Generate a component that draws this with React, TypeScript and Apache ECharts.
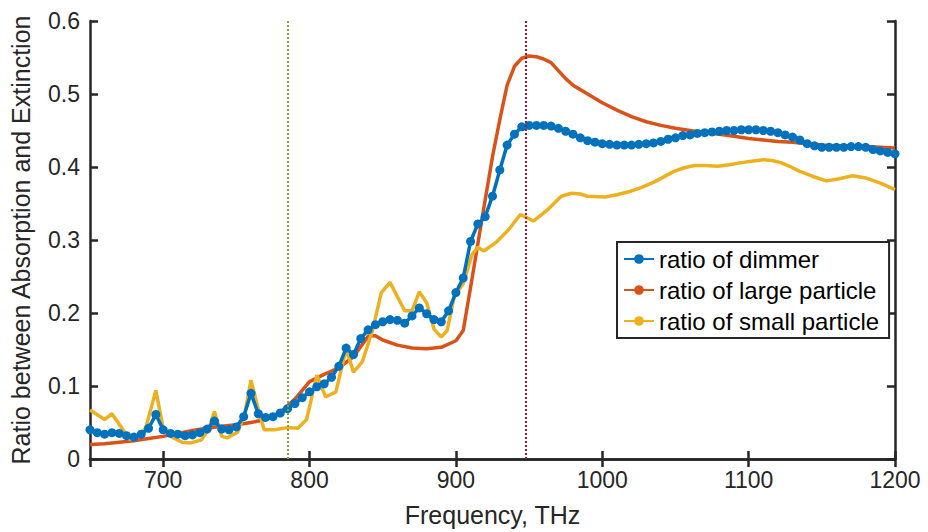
import React, { useEffect, useRef } from "react";
import * as echarts from "echarts";

const dimmerFreq = [
  650, 655, 660, 665, 670, 675, 680, 685, 690, 695, 700, 705, 710, 715, 720, 725, 730, 735, 740, 745,
  750, 755, 760, 765, 770, 775, 780, 785, 790, 795, 800, 805, 810, 815, 820, 825, 830, 835, 840, 845,
  850, 855, 860, 865, 870, 875, 880, 885, 890, 895, 900, 905, 910, 915, 920, 925, 930, 935, 940, 945,
  950, 955, 960, 965, 970, 975, 980, 985, 990, 995, 1000, 1005, 1010, 1015, 1020, 1025, 1030, 1035, 1040, 1045,
  1050, 1055, 1060, 1065, 1070, 1075, 1080, 1085, 1090, 1095, 1100, 1105, 1110, 1115, 1120, 1125, 1130, 1135, 1140, 1145,
  1150, 1155, 1160, 1165, 1170, 1175, 1180, 1185, 1190, 1195, 1200,
];
const dimmerRatio = [
  0.040, 0.036, 0.034, 0.036, 0.035, 0.032, 0.030, 0.034, 0.042, 0.061, 0.040, 0.035, 0.034, 0.032, 0.033, 0.036, 0.041, 0.052, 0.041, 0.040,
  0.044, 0.058, 0.090, 0.062, 0.057, 0.058, 0.063, 0.069, 0.076, 0.084, 0.092, 0.099, 0.103, 0.112, 0.127, 0.152, 0.143, 0.165, 0.177, 0.184,
  0.188, 0.191, 0.190, 0.186, 0.196, 0.207, 0.199, 0.191, 0.188, 0.203, 0.228, 0.248, 0.298, 0.322, 0.332, 0.360, 0.396, 0.430, 0.445, 0.455,
  0.457, 0.457, 0.457, 0.456, 0.453, 0.449, 0.445, 0.440, 0.436, 0.434, 0.432, 0.431, 0.430, 0.430, 0.430, 0.431, 0.432, 0.433, 0.435, 0.438,
  0.440, 0.443, 0.444, 0.446, 0.447, 0.448, 0.449, 0.450, 0.450, 0.451, 0.451, 0.451, 0.450, 0.449, 0.447, 0.444, 0.441, 0.437, 0.432, 0.429,
  0.427, 0.427, 0.427, 0.427, 0.428, 0.428, 0.427, 0.424, 0.422, 0.420, 0.418,
];

const largeFreq = [
  650, 660, 670, 680, 690, 700, 710, 720, 730, 740, 750, 760, 770, 780, 790, 800, 810, 820, 830, 840,
  845, 850, 860, 870, 880, 890, 900, 905, 910, 915, 920, 925, 930, 935, 940, 945, 950, 955, 960, 965,
  970, 975, 980, 990, 1000, 1010, 1020, 1030, 1040, 1050, 1060, 1070, 1080, 1090, 1100, 1110, 1120, 1130, 1140, 1150,
  1160, 1170, 1180, 1190, 1200,
];
const largeRatio = [
  0.020, 0.021, 0.023, 0.025, 0.028, 0.031, 0.035, 0.039, 0.042, 0.045, 0.047, 0.050, 0.054, 0.064, 0.082, 0.106, 0.116, 0.125, 0.140, 0.168,
  0.169, 0.163, 0.156, 0.152, 0.151, 0.153, 0.162, 0.176, 0.235, 0.295, 0.355, 0.414, 0.465, 0.512, 0.538, 0.549, 0.552, 0.551, 0.548, 0.543,
  0.532, 0.521, 0.512, 0.500, 0.488, 0.478, 0.469, 0.462, 0.457, 0.453, 0.450, 0.447, 0.445, 0.442, 0.439, 0.437, 0.435, 0.434, 0.432, 0.430,
  0.429, 0.429, 0.428, 0.427, 0.426,
];

const smallFreq = [
  650, 660, 665, 677, 681, 688, 695, 700, 706, 713, 719, 726, 731, 735, 740, 744, 751, 756, 760, 765,
  769, 776, 785, 792, 798, 805, 811, 818, 825, 830, 836, 843, 849, 855, 865, 870, 875, 880, 885, 890,
  894, 899, 905, 911, 915, 919, 927, 936, 944, 953, 963, 972, 979, 985, 990, 1002, 1010, 1018, 1027, 1036,
  1049, 1056, 1063, 1070, 1079, 1087, 1095, 1102, 1110, 1116, 1122, 1128, 1135, 1144, 1153, 1162, 1171, 1180, 1190, 1200,
];
const smallRatio = [
  0.067, 0.054, 0.062, 0.027, 0.028, 0.042, 0.094, 0.042, 0.030, 0.023, 0.022, 0.026, 0.040, 0.065, 0.031, 0.029, 0.037, 0.065, 0.108, 0.068,
  0.040, 0.040, 0.043, 0.042, 0.054, 0.115, 0.085, 0.092, 0.151, 0.119, 0.133, 0.176, 0.228, 0.242, 0.203, 0.203, 0.229, 0.214, 0.178, 0.167,
  0.176, 0.224, 0.240, 0.280, 0.290, 0.285, 0.296, 0.314, 0.335, 0.326, 0.342, 0.360, 0.364, 0.363, 0.360, 0.359, 0.362, 0.366, 0.372, 0.380,
  0.394, 0.399, 0.402, 0.402, 0.401, 0.403, 0.406, 0.408, 0.410, 0.409, 0.406, 0.401, 0.394, 0.387, 0.381, 0.384, 0.388, 0.385, 0.378, 0.369,
];

const seriesNames = ["ratio of dimmer", "ratio of large particle", "ratio of small particle"];
const seriesColors = ["#0072BD", "#D95319", "#EDB120"];
const markerFreq = [785, 948];
const markerColors = ["#77AC30", "#A2142F"];

const FONT = "Liberation Sans, Arial, Helvetica, sans-serif";
const AXIS_COLOR = "#262626";

const zip = (xs: number[], ys: number[]) => xs.map((x, i) => [x, ys[i]]);

export default function App() {
  const ref = useRef<HTMLDivElement>(null);

  useEffect(() => {
    document.body.style.margin = "0";
    if (!ref.current) return;
    const chart = echarts.init(ref.current, undefined, { renderer: "svg" });

    const tickLabel = {
      color: AXIS_COLOR,
      fontSize: 23,
      fontFamily: FONT,
      formatter: (v: number) => String(Math.round(v * 1000) / 1000),
    };
    const axisLine = { show: true, lineStyle: { color: AXIS_COLOR, width: 2.5 } };
    const axisTick = { show: true, inside: true, length: 8, lineStyle: { color: AXIS_COLOR, width: 2.5 } };

    chart.setOption({
      animation: false,
      backgroundColor: "#ffffff",
      grid: { left: 85, right: 33, top: 21, bottom: 71, containLabel: false },
      legend: {
        data: seriesNames,
        orient: "vertical",
        left: 617,
        top: 242,
        padding: [5, 10, 5, 6],
        itemGap: 7,
        itemWidth: 30,
        itemHeight: 12,
        backgroundColor: "#ffffff",
        borderColor: AXIS_COLOR,
        borderWidth: 2,
        borderRadius: 0,
        textStyle: { color: "#000", fontSize: 24, fontFamily: FONT, lineHeight: 24 },
        z: 10,
      },
      xAxis: [
        {
          type: "value",
          min: 650,
          max: 1200,
          position: "bottom",
          name: "Frequency, THz",
          nameLocation: "middle",
          nameGap: 43,
          nameTextStyle: { color: AXIS_COLOR, fontSize: 25, fontFamily: FONT },
          axisLine,
          axisTick,
          axisLabel: { ...tickLabel, margin: 9, showMinLabel: false },
          splitLine: { show: false },
        },
        {
          type: "value",
          min: 650,
          max: 1200,
          position: "top",
          axisLine,
          axisTick,
          axisLabel: { show: false },
          splitLine: { show: false },
        },
      ],
      yAxis: [
        {
          type: "value",
          min: 0,
          max: 0.6,
          interval: 0.1,
          position: "left",
          name: "Ratio between Absorption and Extinction",
          nameLocation: "middle",
          nameGap: 57,
          nameTextStyle: { color: AXIS_COLOR, fontSize: 25, fontFamily: FONT },
          axisLine,
          axisTick,
          axisLabel: { ...tickLabel, margin: 10 },
          splitLine: { show: false },
        },
        {
          type: "value",
          min: 0,
          max: 0.6,
          interval: 0.1,
          position: "right",
          axisLine,
          axisTick,
          axisLabel: { show: false },
          splitLine: { show: false },
        },
      ],
      series: [
        {
          name: seriesNames[1],
          type: "line",
          data: zip(largeFreq, largeRatio),
          showSymbol: false,
          symbol: "none",
          lineStyle: { color: seriesColors[1], width: 3.5 },
          itemStyle: { color: seriesColors[1] },
          z: 2,
          markLine: {
            silent: true,
            symbol: ["none", "none"],
            label: { show: false },
            data: markerFreq.map((f, i) => ({
              xAxis: f,
              lineStyle: { color: markerColors[i], width: 2, type: [2, 2] },
            })),
          },
        },
        {
          name: seriesNames[2],
          type: "line",
          data: zip(smallFreq, smallRatio),
          showSymbol: false,
          symbol: "none",
          lineStyle: { color: seriesColors[2], width: 3.5 },
          itemStyle: { color: seriesColors[2] },
          z: 3,
        },
        {
          name: seriesNames[0],
          type: "line",
          data: zip(dimmerFreq, dimmerRatio),
          symbol: "circle",
          symbolSize: 9,
          showSymbol: true,
          lineStyle: { color: seriesColors[0], width: 3.5 },
          itemStyle: { color: seriesColors[0] },
          z: 4,
        },
      ],
    });

    return () => chart.dispose();
  }, []);

  return <div ref={ref} style={{ width: 928, height: 532 }} />;
}
